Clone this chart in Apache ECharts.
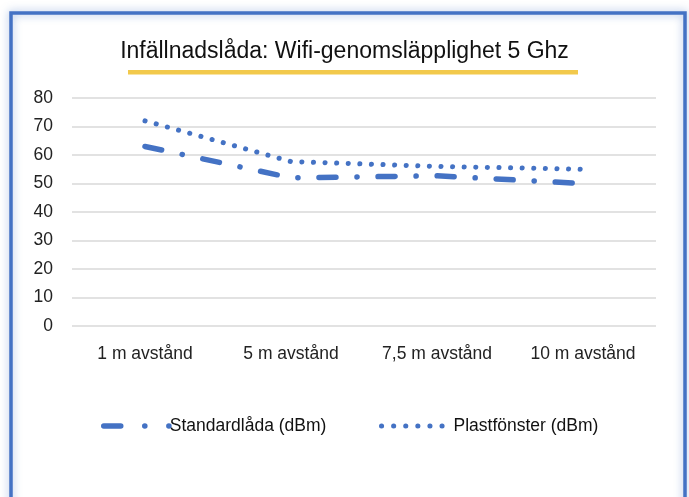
<!DOCTYPE html>
<html>
<head>
<meta charset="utf-8">
<script src="https://cdn.jsdelivr.net/npm/echarts@6/dist/echarts.min.js"></script>
<style>
  html, body { margin: 0; padding: 0; background: #fff; }
  #chart { width: 689px; height: 497px; }
</style>
</head>
<body>
<div id="chart"></div>
<script>
// data
const categories = ['1 m avstånd', '5 m avstånd', '7,5 m avstånd', '10 m avstånd'];
const standardlada = [63, 52, 52.7, 50];
const plastfonster = [72, 57.7, 56, 55];
const yTicks = { min: 0, max: 80, interval: 10 };

const blue = '#4472c4';
const font = '"Liberation Sans", Arial, sans-serif';

const chart = echarts.init(document.getElementById('chart'));
const option = {
  backgroundColor: '#fff',
  animation: false,
  title: {
    text: 'Infällnadslåda: Wifi-genomsläpplighet 5 Ghz',
    left: 'center',
    top: 35,
    textStyle: { fontFamily: font, fontSize: 23, fontWeight: 'normal', color: '#111' }
  },
  graphic: [
    {
      type: 'rect',
      shape: { x: 11, y: 13, width: 674, height: 500 },
      style: { fill: 'none', stroke: blue, lineWidth: 3.5, shadowBlur: 8, shadowColor: 'rgba(68,114,196,0.5)' },
      z: -1
    },
    {
      type: 'rect',
      shape: { x: 128, y: 70, width: 450, height: 4.5 },
      style: { fill: '#f2c94c' }
    }
  ],
  // two legends so each item sits where it does in the picture
  legend: [
    {
      left: 96,
      top: 412,
      itemWidth: 66,
      itemHeight: 14,
      textStyle: { fontFamily: font, fontSize: 17.5, color: '#111', padding: [0, 0, 0, -5] },
      data: [{
        name: 'Standardlåda (dBm)',
        itemStyle: { opacity: 0 },
        lineStyle: { width: 5.5, type: [17, 24, 0.1, 24, 0.1, 40], cap: 'round' }
      }]
    },
    {
      left: 374,
      top: 412,
      itemWidth: 64,
      itemHeight: 14,
      textStyle: { fontFamily: font, fontSize: 17.5, color: '#111', padding: [0, 0, 0, 3] },
      data: [{
        name: 'Plastfönster (dBm)',
        itemStyle: { opacity: 0 },
        lineStyle: { width: 5, type: [0.1, 12], cap: 'round', dashOffset: 0 }
      }]
    }
  ],
  grid: { left: 72, right: 33, top: 98, bottom: 171, containLabel: false },
  xAxis: {
    type: 'category',
    data: categories,
    axisLine: { show: false },
    axisTick: { show: false },
    axisLabel: { fontFamily: font, fontSize: 17.5, color: '#222', margin: 19 }
  },
  yAxis: {
    type: 'value',
    min: yTicks.min,
    max: yTicks.max,
    interval: yTicks.interval,
    axisLine: { show: false },
    axisTick: { show: false },
    axisLabel: { fontFamily: font, fontSize: 17.5, color: '#222', margin: 19 },
    splitLine: { lineStyle: { color: '#d9d9d9', width: 1.5 } }
  },
  series: [
    {
      name: 'Standardlåda (dBm)',
      type: 'line',
      data: standardlada,
      symbol: 'none',
      lineStyle: { color: blue, width: 5.5, type: [17, 21, 0.1, 21], cap: 'round' },
      itemStyle: { color: blue }
    },
    {
      name: 'Plastfönster (dBm)',
      type: 'line',
      data: plastfonster,
      symbol: 'none',
      lineStyle: { color: blue, width: 5, type: [0.1, 11.5], cap: 'round' },
      itemStyle: { color: blue }
    }
  ]
};
chart.setOption(option);
</script>
</body>
</html>
